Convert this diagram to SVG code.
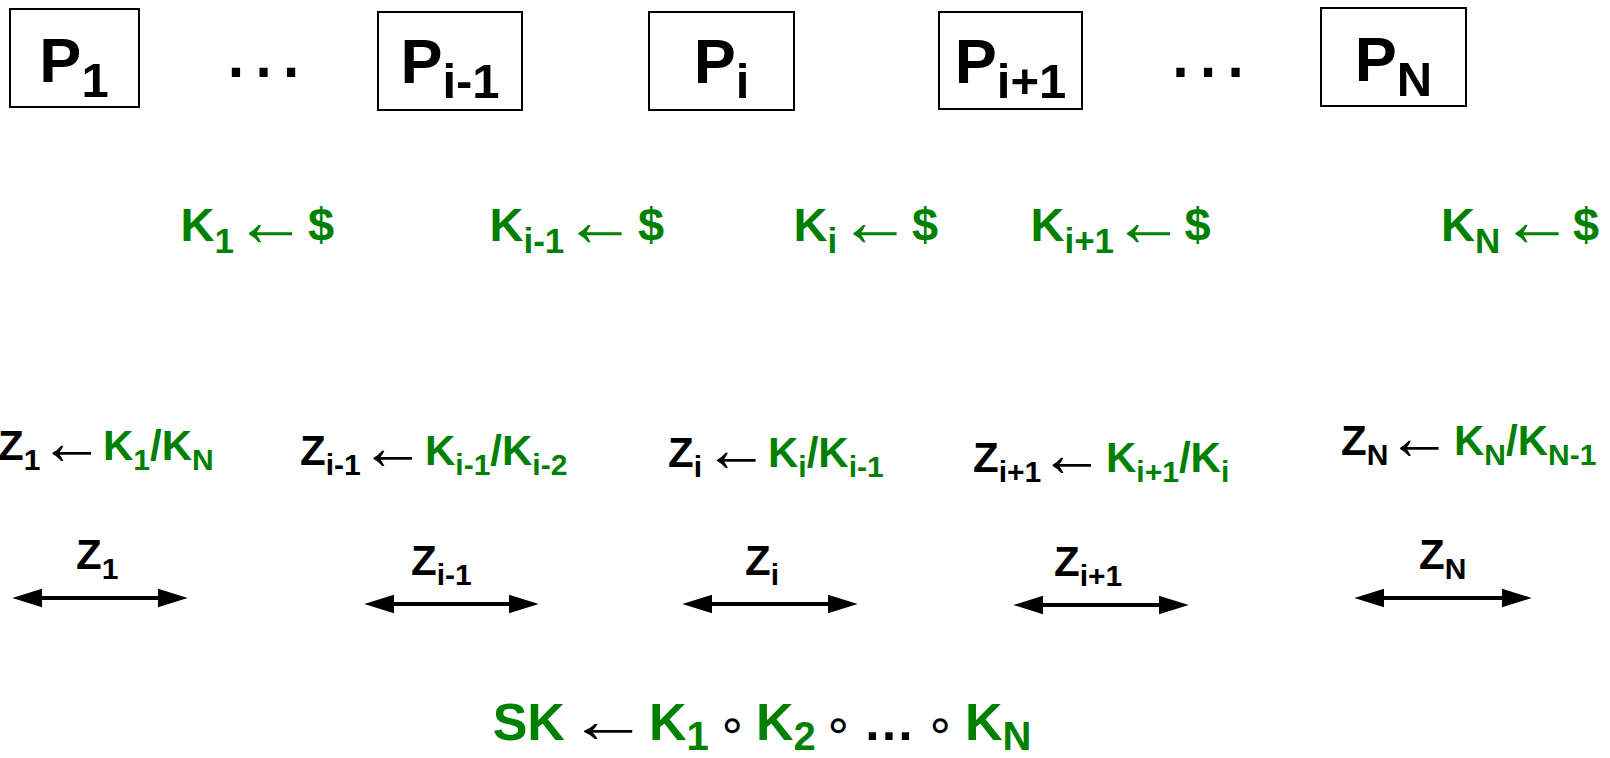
<svg xmlns="http://www.w3.org/2000/svg" width="1610" height="758" viewBox="0 0 1610 758">
<style>
.t{font-family:"Liberation Sans",Arial,sans-serif;font-weight:bold;fill:#000}
.g{fill:#008000}
.ar{font-family:"Liberation Sans","DejaVu Sans",sans-serif;font-weight:normal;text-anchor:middle}
.ka{fill:#008000;font-size:73px}
.za{fill:#000;font-size:65px}
.dots{font-family:"Liberation Sans",Arial,sans-serif;font-weight:normal;fill:#000}
.box{fill:#fff;stroke:#000;stroke-width:2}
.pt{font-family:"Liberation Sans",Arial,sans-serif;font-weight:bold;fill:#000;text-anchor:middle;font-size:63px}
.ring{font-family:"DejaVu Sans",sans-serif;font-weight:normal;fill:#000;text-anchor:middle;font-size:48px}
.conn{stroke:#000;stroke-width:4;fill:none;marker-start:url(#ah);marker-end:url(#ah)}
</style>
<defs>
<marker id="ah" markerUnits="userSpaceOnUse" markerWidth="30" markerHeight="20" viewBox="0 0 29 18" refX="9" refY="9" orient="auto-start-reverse">
<path d="M0,0 L29,9 L0,18 z" fill="#000"/>
</marker>
</defs>
<rect width="1610" height="758" fill="#fff"/>

<g id="P1"><rect class="box" x="10" y="9" width="129" height="98"/><text class="pt" x="74" y="82">P<tspan font-size="49" dy="15">1</tspan></text></g>
<g id="dots-left"><text class="dots" x="220" y="77" font-size="87">…</text></g>
<g id="P_i-1"><rect class="box" x="378" y="12" width="144" height="98"/><text class="pt" x="450" y="83">P<tspan font-size="49" dy="15">i-1</tspan></text></g>
<g id="P_i"><rect class="box" x="649" y="12" width="145" height="98"/><text class="pt" x="721.5" y="83">P<tspan font-size="49" dy="15">i</tspan></text></g>
<g id="P_i+1"><rect class="box" x="939" y="12" width="143" height="97"/><text class="pt" x="1010.5" y="83">P<tspan font-size="49" dy="15">i+1</tspan></text></g>
<g id="dots-right"><text class="dots" x="1164.5" y="77" font-size="87">…</text></g>
<g id="P_N"><rect class="box" x="1321" y="8" width="145" height="98"/><text class="pt" x="1393.5" y="81">P<tspan font-size="49" dy="15">N</tspan></text></g>

<g id="K1"><text class="t g" x="180.5" y="241" font-size="47">K<tspan font-size="35" dy="12">1</tspan></text><text class="ar ka" x="270.5" y="246">←</text><text class="t g" x="308" y="241" font-size="47">$</text></g>
<g id="K_i-1"><text class="t g" x="489.5" y="241" font-size="47">K<tspan font-size="35" dy="12">i-1</tspan></text><text class="ar ka" x="600" y="246">←</text><text class="t g" x="638" y="241" font-size="47">$</text></g>
<g id="K_i"><text class="t g" x="793.5" y="241" font-size="47">K<tspan font-size="35" dy="12">i</tspan></text><text class="ar ka" x="875" y="246">←</text><text class="t g" x="912" y="241" font-size="47">$</text></g>
<g id="K_i+1"><text class="t g" x="1030.5" y="241" font-size="47">K<tspan font-size="35" dy="12">i+1</tspan></text><text class="ar ka" x="1148.5" y="246">←</text><text class="t g" x="1184.5" y="241" font-size="47">$</text></g>
<g id="K_N"><text class="t g" x="1441" y="241" font-size="47">K<tspan font-size="35" dy="12">N</tspan></text><text class="ar ka" x="1537" y="246">←</text><text class="t g" x="1573" y="241" font-size="47">$</text></g>

<g id="Z1-def"><text class="t" x="-2" y="460" font-size="42">Z<tspan font-size="30" dy="10">1</tspan></text><text class="ar za" x="72" y="464">←</text><text class="t g" x="103" y="460" font-size="42">K<tspan font-size="30" dy="10">1</tspan><tspan dy="-10">/K</tspan><tspan font-size="30" dy="10">N</tspan></text></g>
<g id="Z_i-1-def"><text class="t" x="300" y="465" font-size="42">Z<tspan font-size="30" dy="10">i-1</tspan></text><text class="ar za" x="393" y="469">←</text><text class="t g" x="425" y="465" font-size="42">K<tspan font-size="30" dy="10">i-1</tspan><tspan dy="-10">/K</tspan><tspan font-size="30" dy="10">i-2</tspan></text></g>
<g id="Z_i-def"><text class="t" x="668" y="467" font-size="42">Z<tspan font-size="30" dy="10">i</tspan></text><text class="ar za" x="736.5" y="471">←</text><text class="t g" x="768" y="467" font-size="42">K<tspan font-size="30" dy="10">i</tspan><tspan dy="-10">/K</tspan><tspan font-size="30" dy="10">i-1</tspan></text></g>
<g id="Z_i+1-def"><text class="t" x="973" y="472" font-size="42">Z<tspan font-size="30" dy="10">i+1</tspan></text><text class="ar za" x="1072" y="476">←</text><text class="t g" x="1106" y="472" font-size="42">K<tspan font-size="30" dy="10">i+1</tspan><tspan dy="-10">/K</tspan><tspan font-size="30" dy="10">i</tspan></text></g>
<g id="Z_N-def"><text class="t" x="1341" y="455" font-size="42">Z<tspan font-size="30" dy="10">N</tspan></text><text class="ar za" x="1419.5" y="459">←</text><text class="t g" x="1454" y="455" font-size="42">K<tspan font-size="30" dy="10">N</tspan><tspan dy="-10">/K</tspan><tspan font-size="30" dy="10">N-1</tspan></text></g>

<g id="connectors">
<line class="conn" x1="33" y1="598" x2="167" y2="598"/>
<line class="conn" x1="385" y1="604" x2="518" y2="604"/>
<line class="conn" x1="703" y1="604" x2="837" y2="604"/>
<line class="conn" x1="1034" y1="605" x2="1168" y2="605"/>
<line class="conn" x1="1375" y1="598" x2="1511" y2="598"/>
</g>
<g id="connector-labels">
<text class="t" x="76" y="569" font-size="42">Z<tspan font-size="30" dy="10">1</tspan></text>
<text class="t" x="411" y="575" font-size="42">Z<tspan font-size="30" dy="10">i-1</tspan></text>
<text class="t" x="745" y="575" font-size="42">Z<tspan font-size="30" dy="10">i</tspan></text>
<text class="t" x="1054" y="576" font-size="42">Z<tspan font-size="30" dy="10">i+1</tspan></text>
<text class="t" x="1419" y="569" font-size="42">Z<tspan font-size="30" dy="10">N</tspan></text>
</g>

<g id="SK">
<text class="t g" x="492.7" y="740" font-size="52">SK</text>
<text class="ar" x="0" y="0" font-size="64" fill="#000" transform="translate(608,742) scale(1.27,1)">←</text>
<text class="t g" x="649" y="740" font-size="52">K<tspan font-size="40" dy="10">1</tspan></text>
<text class="ring" x="732" y="741">∘</text>
<text class="t g" x="756" y="740" font-size="52">K<tspan font-size="40" dy="10">2</tspan></text>
<text class="ring" x="838" y="741">∘</text>
<text class="t" x="863" y="740" font-size="52">…</text>
<text class="ring" x="940" y="741">∘</text>
<text class="t g" x="965" y="740" font-size="52">K<tspan font-size="40" dy="10">N</tspan></text>
</g>
</svg>
